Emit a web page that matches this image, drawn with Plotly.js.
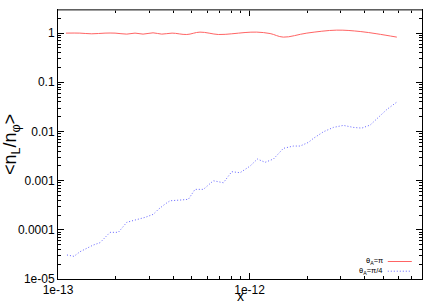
<!DOCTYPE html>
<html>
<head>
<meta charset="utf-8">
<script src="https://cdn.plot.ly/plotly-3.0.1.min.js"></script>
<style>html,body{margin:0;padding:0;background:#fff;}#chart{width:436px;height:305px;}</style>
</head>
<body>
<div id="chart"></div>
<script>
// theta_A = pi series
const xPi = [1.10e-13, 1.30e-13, 1.50e-13, 1.76e-13, 1.985e-13, 2.285e-13, 2.524e-13, 2.78e-13, 3.134e-13, 3.48e-13, 3.94e-13, 4.70e-13, 5.51e-13, 6.87e-13, 8.07e-13, 9.47e-13, 1.09e-12, 1.28e-12, 1.50e-12, 1.99e-12, 2.85e-12, 3.78e-12, 4.62e-12, 5.87e-12];
const yPi = [1.0, 1.0, 0.968, 1.0, 1.0, 0.954, 1.0, 0.954, 1.014, 0.954, 1.0, 0.937, 1.048, 0.937, 0.968, 1.028, 1.048, 0.98, 0.829, 1.0, 1.15, 1.078, 0.968, 0.829];
// theta_A = pi/4 series
const xPi4 = [1.114e-13, 1.212e-13, 1.303e-13, 1.412e-13, 1.529e-13, 1.657e-13, 1.760e-13, 1.869e-13, 2.065e-13, 2.193e-13, 2.285e-13, 2.524e-13, 2.847e-13, 3.146e-13, 3.341e-13, 3.621e-13, 3.845e-13, 4.336e-13, 4.79e-13, 5.19e-13, 5.74e-13, 6.47e-13, 7.30e-13, 8.07e-13, 8.92e-13, 1.006e-12, 1.098e-12, 1.205e-12, 1.332e-12, 1.502e-12, 1.693e-12, 1.835e-12, 2.028e-12, 2.154e-12, 2.43e-12, 2.74e-12, 3.09e-12, 3.48e-12, 3.85e-12, 4.26e-12, 4.71e-12, 5.21e-12, 5.87e-12];
const yPi4 = [3.08e-5, 2.89e-5, 3.59e-5, 4.21e-5, 4.91e-5, 5.47e-5, 7.04e-5, 8.89e-5, 8.89e-5, 1.156e-4, 1.42e-4, 1.58e-4, 1.79e-4, 2.07e-4, 2.61e-4, 3.34e-4, 3.90e-4, 4.03e-4, 4.17e-4, 6.65e-4, 6.65e-4, 9.95e-4, 9.06e-4, 1.52e-3, 1.45e-3, 1.98e-3, 2.75e-3, 2.36e-3, 2.75e-3, 4.54e-3, 5.05e-3, 5.05e-3, 6.00e-3, 7.24e-3, 9.86e-3, 1.21e-2, 1.33e-2, 1.21e-2, 1.17e-2, 1.35e-2, 1.99e-2, 2.81e-2, 3.96e-2];

const xTickVals = [1e-13, 1e-12];
const xTickText = ['1e-13', '1e-12'];
const xMinorVals = [2e-13,3e-13,4e-13,5e-13,6e-13,7e-13,8e-13,9e-13,2e-12,3e-12,4e-12,5e-12,6e-12,7e-12];
const yTickVals = [1e-5, 1e-4, 1e-3, 1e-2, 1e-1, 1];
const yTickText = ['1e-05', '0.0001', '0.001', '0.01', '0.1', '1'];
const yMinorVals = [];
for (let k = -5; k <= 0; k++) for (let m = 2; m <= 9; m++) { const v = m * Math.pow(10, k); if (v < 3) yMinorVals.push(v); }

const seriesNames = ['θ<sub>A</sub>=π', 'θ<sub>A</sub>=π/4'];
const seriesColors = ['#ff6464', '#6464ff'];
const xTitle = 'x';
const yTitle = '&lt;n<sub>L</sub>/n<sub>φ</sub>&gt;';

const traces = [
  {x: xPi, y: yPi, mode: 'lines', line: {color: seriesColors[0], width: 1, shape: 'spline', smoothing: 1}, showlegend: false},
  {x: xPi4, y: yPi4, mode: 'lines', line: {color: seriesColors[1], width: 1, dash: '1px,2px'}, showlegend: false}
];

const font = {family: 'Liberation Sans, Arial, sans-serif', color: '#000'};
const layout = {
  width: 436, height: 305,
  margin: {l: 58, r: 14, t: 10, b: 26},
  paper_bgcolor: '#fff', plot_bgcolor: '#fff',
  font: Object.assign({size: 12}, font),
  xaxis: {
    type: 'log', range: [-13, -11.1], autorange: false,
    tickmode: 'array', tickvals: xTickVals, ticktext: xTickText,
    ticks: 'inside', ticklen: 6, tickcolor: '#000', tickwidth: 1,
    minor: {tickmode: 'array', tickvals: xMinorVals, ticks: 'inside', ticklen: 3, tickcolor: '#000', showgrid: false},
    showline: true, linecolor: '#000', linewidth: 1, mirror: 'allticks',
    showgrid: false, zeroline: false,
    tickfont: {size: 12},
    automargin: false
  },
  yaxis: {
    type: 'log', range: [-5, 0.47], autorange: false,
    tickmode: 'array', tickvals: yTickVals, ticktext: yTickText,
    ticks: 'inside', ticklen: 6, tickcolor: '#000', tickwidth: 1,
    minor: {tickmode: 'array', tickvals: yMinorVals, ticks: 'inside', ticklen: 3, tickcolor: '#000', showgrid: false},
    showline: true, linecolor: '#000', linewidth: 1, mirror: 'allticks',
    showgrid: false, zeroline: false,
    tickfont: {size: 12},
    title: {text: yTitle, font: {size: 18}, standoff: 0},
    automargin: false
  },
  shapes: [
    {type: 'line', xref: 'paper', yref: 'paper', x0: 0, x1: 1, y0: 1, y1: 1, line: {color: '#808080', width: 1.5}, layer: 'above'},
    {type: 'line', xref: 'paper', yref: 'paper', x0: 0.906, x1: 0.972, y0: 0.065, y1: 0.065, line: {color: seriesColors[0], width: 1}},
    {type: 'line', xref: 'paper', yref: 'paper', x0: 0.906, x1: 0.972, y0: 0.029, y1: 0.029, line: {color: seriesColors[1], width: 1, dash: '1px,2px'}}
  ],
  annotations: [
    {xref: 'paper', yref: 'paper', x: 0.5, y: -0.0967, xanchor: 'center', yanchor: 'bottom', text: xTitle, showarrow: false, font: {size: 14}, borderpad: 0},
    {xref: 'paper', yref: 'paper', x: 0.895, y: 0.068, xanchor: 'right', yanchor: 'middle', text: seriesNames[0], showarrow: false, font: {size: 7.5}, borderpad: 0},
    {xref: 'paper', yref: 'paper', x: 0.895, y: 0.030, xanchor: 'right', yanchor: 'middle', text: seriesNames[1], showarrow: false, font: {size: 7.5}, borderpad: 0}
  ]
};

Plotly.newPlot('chart', traces, layout, {staticPlot: true, displayModeBar: false});
</script>
</body>
</html>
